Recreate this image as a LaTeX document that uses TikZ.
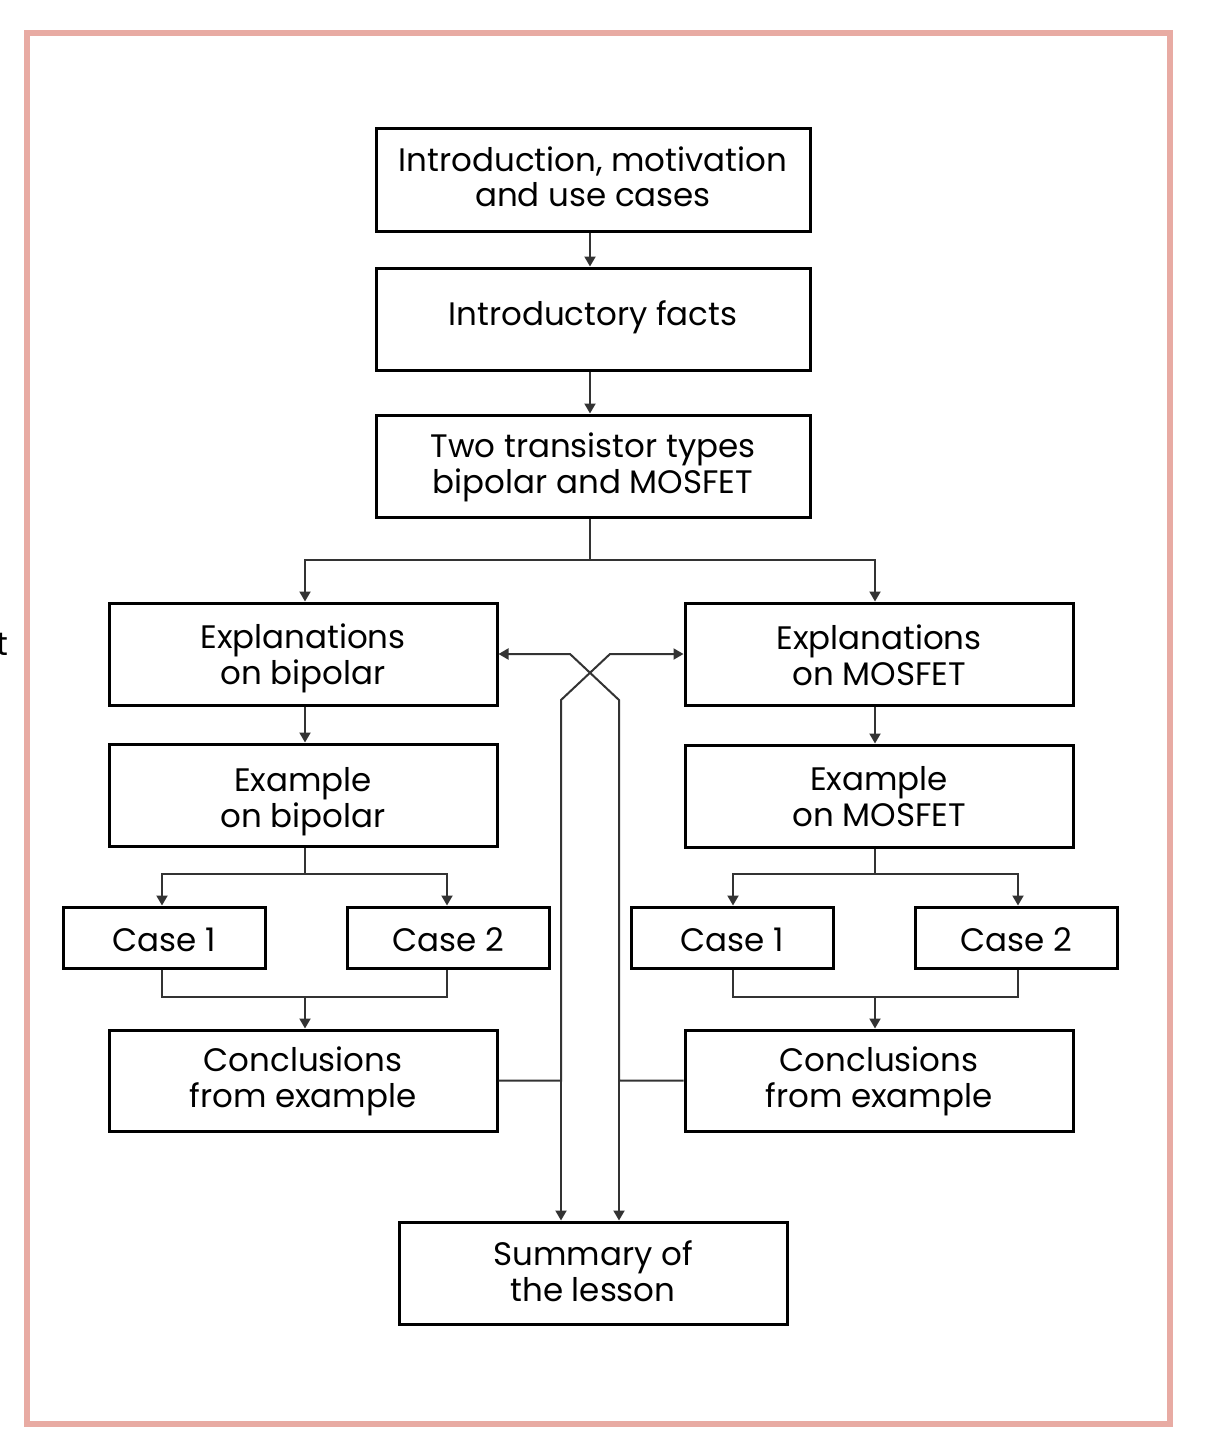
\documentclass[tikz,border=0pt]{standalone}
\usepackage{fontspec}
\setmainfont{Poppins}
\usetikzlibrary{arrows.meta,calc}
\definecolor{framepink}{HTML}{E8ABA3}
\definecolor{connc}{HTML}{333333}
\newcommand\twolines[3]{\raisebox{#1}[0pt][0pt]{#2}\\\raisebox{#1}[0pt][0pt]{#3}}
\newcommand\oneline[2]{\raisebox{#1}[0pt][0pt]{#2}}
\begin{document}
\begin{tikzpicture}[x=1pt,y=-1pt,
  box/.style={draw=black, line width=3pt, inner sep=0pt, align=center,
    minimum width=388pt, minimum height=102pt,
    font=\fontsize{32.5}{36}\selectfont},
  widebox/.style={box, minimum width=434pt},
  casebox/.style={box, minimum width=202pt, minimum height=61pt},
  conn/.style={draw=connc, line width=2pt},
  arr/.style={conn, -{Triangle[length=10pt,width=11pt]}}]
\useasboundingbox (0,0) rectangle (1216,1450);
\fill[white] (0,0) rectangle (1216,1450);
\draw[framepink, line width=6pt] (27,33) rectangle (1170,1424);
\node[anchor=base east, inner sep=0pt, font=\fontsize{32.5}{36}\selectfont] (tfrag) at (9,655) {t};

% connector columns
\coordinate (colM) at (590,0);
\coordinate (colL) at (305,0);
\coordinate (colR) at (875,0);
\coordinate (aL1) at (162,0);
\coordinate (aL2) at (447,0);
\coordinate (aR1) at (733,0);
\coordinate (aR2) at (1018,0);

\node[widebox] (intro) at (593,180) {\twolines{-9pt}{Introduction, motivation}{and use cases}};
\node[widebox] (facts) at (593,319) {\oneline{-6pt}{Introductory facts}};
\node[widebox] (types) at (593,466) {\twolines{-9pt}{Two transistor types}{bipolar and MOSFET}};

\node[box] (explL) at (303,654) {\twolines{-12pt}{Explanations}{on bipolar}};
\node[box] (explR) at (879,654) {\twolines{-13pt}{Explanations}{on MOSFET}};
\node[box] (exL) at (303,795) {\twolines{-14pt}{Example}{on bipolar}};
\node[box] (exR) at (879,796) {\twolines{-12pt}{Example}{on MOSFET}};

\node[casebox] (cL1) at (164,937.5) {\oneline{-13.5pt}{Case 1}};
\node[casebox] (cL2) at (448,937.5) {\oneline{-13.5pt}{Case 2}};
\node[casebox] (cR1) at (732,937.5) {\oneline{-13.5pt}{Case 1}};
\node[casebox] (cR2) at (1016,937.5) {\oneline{-13.5pt}{Case 2}};

\node[box, minimum height=101pt] (concL) at (303,1080.5) {\twolines{-8.5pt}{Conclusions}{from example}};
\node[box, minimum height=101pt] (concR) at (879,1080.5) {\twolines{-8.5pt}{Conclusions}{from example}};
\node[box] (summ) at (593,1273) {\twolines{-10pt}{Summary of}{the lesson}};

% main chain
\draw[arr] (intro.south -| colM) -- (facts.north -| colM);
\draw[arr] (facts.south -| colM) -- (types.north -| colM);
\draw[arr] (types.south -| colM) -- ++(0,41) -| (explL.north -| colL);
\draw[arr] (types.south -| colM) ++(0,41) -| (explR.north -| colR);
\draw[arr] (explL.south -| colL) -- (exL.north -| colL);
\draw[arr] (explR.south -| colR) -- (exR.north -| colR);

% cases left
\draw[arr] (exL.south -| colL) -- ++(0,26) -| (cL1.north -| aL1);
\draw[arr] (exL.south -| colL) ++(0,26) -| (cL2.north -| aL2);
\draw[conn] (cL1.south -| aL1) -- ++(0,27) -| (cL2.south -| aL2);
\draw[arr] (cL1.south -| colL) ++(0,27) -- (concL.north -| colL);
% cases right
\draw[arr] (exR.south -| colR) -- ++(0,25) -| (cR1.north -| aR1);
\draw[arr] (exR.south -| colR) ++(0,25) -| (cR2.north -| aR2);
\draw[conn] (cR1.south -| aR1) -- ++(0,27) -| (cR2.south -| aR2);
\draw[arr] (cR1.south -| colR) ++(0,27) -- (concR.north -| colR);

% feedback crossing lines
\coordinate (kL) at (561,700);
\coordinate (kLr) at (610,654);
\coordinate (kR) at (619,700);
\coordinate (kRl) at (570,654);
\draw[arr] (concL.east) -| (kL) -- (kLr) -- (explR.west);
\draw[arr] (concL.east -| kL) -- (kL |- summ.north);
\draw[arr] (concR.west) -| (kR) -- (kRl) -- (explL.east);
\draw[arr] (concR.west -| kR) -- (kR |- summ.north);
\end{tikzpicture}
\end{document}
